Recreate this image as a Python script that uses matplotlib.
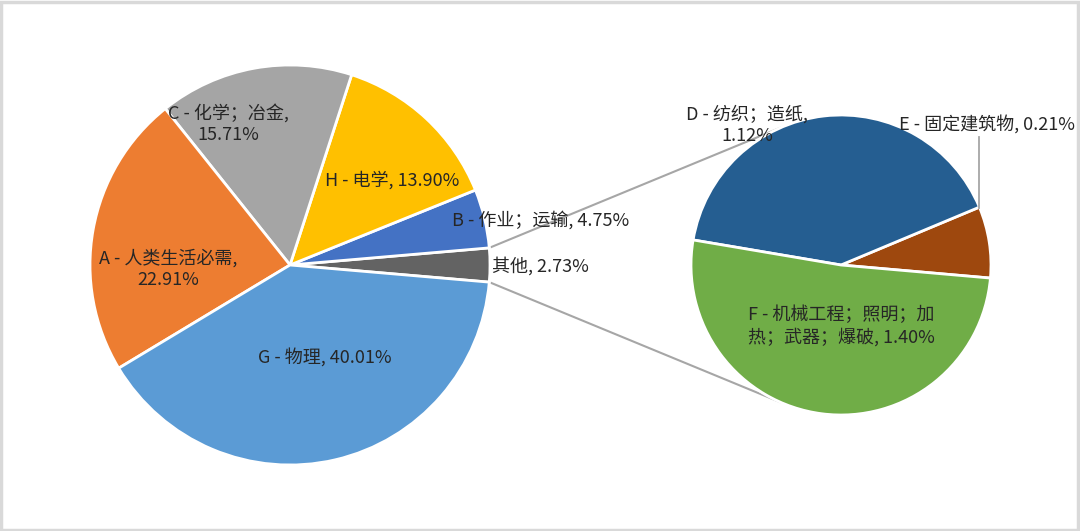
import matplotlib
matplotlib.use("Agg")
import matplotlib.pyplot as plt
import numpy as np
from matplotlib.patches import Rectangle

plt.rcParams['font.family'] = ['Noto Sans CJK SC', 'DejaVu Sans']

# Main pie (counter-clockwise starting from the "other" slice on the right)
main_labels = ["其他", "B - 作业；运输", "H - 电学", "C - 化学；冶金", "A - 人类生活必需", "G - 物理"]
main_values = [2.73, 4.75, 13.90, 15.71, 22.91, 40.01]
main_colors = ["#636363", "#4472C4", "#FFC000", "#A5A5A5", "#ED7D31", "#5B9BD5"]

# Secondary pie (breakdown of "其他")
sub_labels = ["E - 固定建筑物", "D - 纺织；造纸", "F - 机械工程；照明；加热；武器；爆破"]
sub_values = [0.21, 1.12, 1.40]
sub_colors = ["#9E480E", "#255E91", "#70AD47"]

W, H = 1080, 531
fig = plt.figure(figsize=(W / 100, H / 100), dpi=100)
ax = fig.add_axes([0, 0, 1, 1])

def py(y):
    return H - y

c1 = (290, py(265)); r1 = 200
c2 = (841, py(265)); r2 = 150

other_angle = main_values[0] / sum(main_values) * 360
start1 = -other_angle / 2
ax.pie(main_values, colors=main_colors, center=c1, radius=r1, startangle=start1,
       counterclock=True, wedgeprops=dict(edgecolor='white', linewidth=2),
       frame=True)
ax.pie(sub_values, colors=sub_colors, center=c2, radius=r2, startangle=-5,
       counterclock=True, wedgeprops=dict(edgecolor='white', linewidth=2),
       frame=True)
ax.set_xlim(0, W)
ax.set_ylim(0, H)
ax.set_aspect('equal')
ax.axis('off')

# connector lines
a_top = np.deg2rad(start1 + other_angle)
a_bot = np.deg2rad(start1)
e_top = np.deg2rad(114)
e_bot = np.deg2rad(-114)
ax.plot([c1[0] + r1 * np.cos(a_top), c2[0] + r2 * np.cos(e_top)],
        [c1[1] + r1 * np.sin(a_top), c2[1] + r2 * np.sin(e_top)],
        color='#A6A6A6', lw=1.5, zorder=0)
ax.plot([c1[0] + r1 * np.cos(a_bot), c2[0] + r2 * np.cos(e_bot)],
        [c1[1] + r1 * np.sin(a_bot), c2[1] + r2 * np.sin(e_bot)],
        color='#A6A6A6', lw=1.5, zorder=0)

# E leader line
ax.plot([979, 979], [py(137), py(208)], color='#A6A6A6', lw=1.3)

fs = 13
tc = '#262626'
def lab(x, y, s, ha='center'):
    ax.text(x, py(y), s, fontsize=fs, color=tc, ha=ha, va='center', linespacing=1.28, zorder=5)

def pct(v):
    return f"{v:.2f}%"

lab(325, 357, f"{main_labels[5]}, {pct(main_values[5])}")
lab(168, 269, f"{main_labels[4]},\n{pct(main_values[4])}")
lab(228, 124, f"{main_labels[3]},\n{pct(main_values[3])}")
lab(392, 180, f"{main_labels[2]}, {pct(main_values[2])}")
lab(452, 220, f"{main_labels[1]}, {pct(main_values[1])}", ha='left')
lab(492, 266, f"{main_labels[0]}, {pct(main_values[0])}", ha='left')
lab(747, 125, f"{sub_labels[1]},\n{pct(sub_values[1])}")
lab(987, 124, f"{sub_labels[0]}, {pct(sub_values[0])}")
lab(841, 326, "F - 机械工程；照明；加\n热；武器；爆破, " + pct(sub_values[2]))

fig.add_artist(Rectangle((0.001, 0.002), 0.997, 0.995, transform=fig.transFigure,
                         fill=False, edgecolor='#D9D9D9', lw=2.5))

fig.savefig("out.png", dpi=100)
